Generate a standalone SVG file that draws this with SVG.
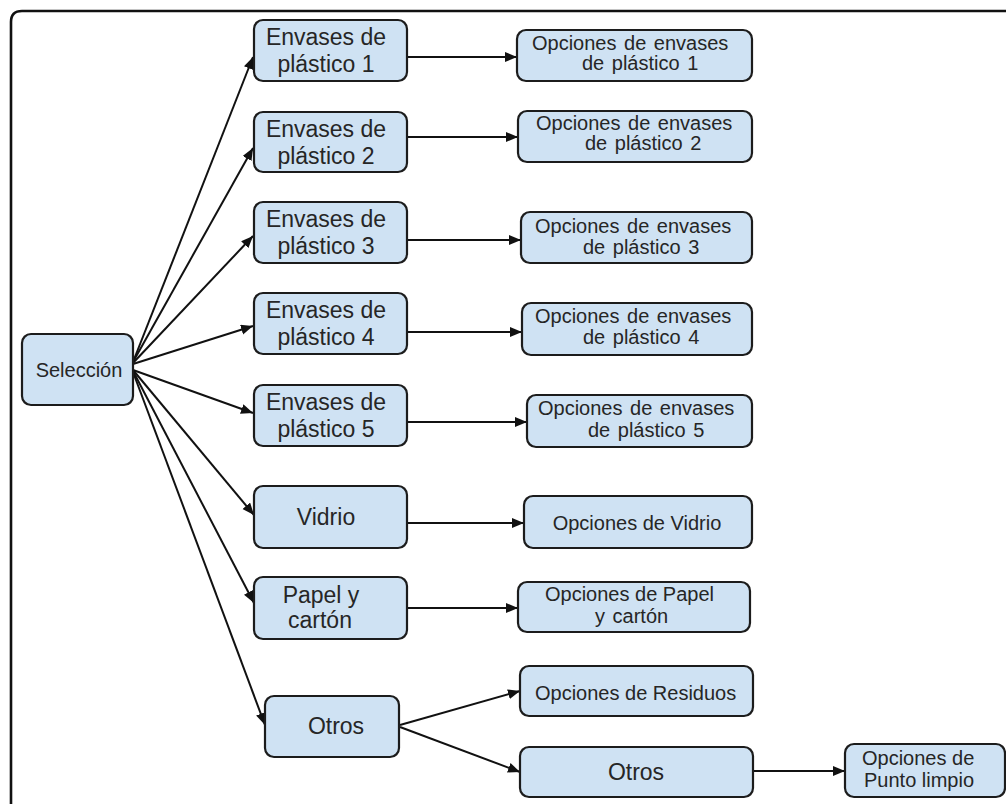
<svg xmlns="http://www.w3.org/2000/svg" width="1006" height="804" viewBox="0 0 1006 804">
<defs>
<marker id="ah" markerUnits="userSpaceOnUse" markerWidth="13" markerHeight="11" refX="12" refY="5" orient="auto">
<path d="M0,0 L12,5 L0,10 z" fill="#111"/>
</marker>
<style>
.box{fill:#cfe2f3;stroke:#1c1c1c;stroke-width:2.2}
.t{font-family:"Liberation Sans",Arial,sans-serif;fill:#262626}
.L{font-size:23px}
.R{font-size:20px}
.c{text-anchor:middle}
.w{word-spacing:2px}
.edge{stroke:#111;stroke-width:2;fill:none;marker-end:url(#ah)}
</style>
</defs>
<rect width="1006" height="804" fill="#fff"/>
<path d="M11,806 L11,22 Q11,11 22,11 L1006,11" fill="none" stroke="#111" stroke-width="2.6"/>
<g id="connectors">
<line class="edge" x1="133" y1="362" x2="253" y2="57"/>
<line class="edge" x1="133" y1="362" x2="253" y2="148"/>
<line class="edge" x1="133" y1="363" x2="253" y2="236"/>
<line class="edge" x1="133" y1="364" x2="253" y2="326"/>
<line class="edge" x1="133" y1="370" x2="253" y2="413"/>
<line class="edge" x1="133" y1="370" x2="254" y2="515"/>
<line class="edge" x1="133" y1="371" x2="254" y2="603"/>
<line class="edge" x1="133" y1="372" x2="265" y2="725"/>
<line class="edge" x1="407" y1="57" x2="517" y2="57"/>
<line class="edge" x1="407" y1="137" x2="518" y2="137"/>
<line class="edge" x1="407" y1="240" x2="521" y2="240"/>
<line class="edge" x1="407" y1="332" x2="522" y2="332"/>
<line class="edge" x1="407" y1="422" x2="527" y2="422"/>
<line class="edge" x1="407" y1="523" x2="524" y2="523"/>
<line class="edge" x1="407" y1="608" x2="518" y2="608"/>
<line class="edge" x1="400" y1="725" x2="520" y2="691"/>
<line class="edge" x1="400" y1="727" x2="520" y2="772"/>
<line class="edge" x1="753" y1="771" x2="845" y2="771"/>
</g>
<g id="seleccion">
<rect class="box" x="22" y="334" width="111" height="71" rx="9"/>
<text class="t R c" x="79" y="377">Selección</text>
</g>
<g id="envases1">
<rect class="box" x="254" y="20" width="153" height="61" rx="9"/>
<text class="t L c" x="326" y="45">Envases de</text>
<text class="t L c" x="326" y="72">plástico 1</text>
</g>
<g id="envases2">
<rect class="box" x="254" y="112" width="153" height="60" rx="9"/>
<text class="t L c" x="326" y="137">Envases de</text>
<text class="t L c" x="326" y="164">plástico 2</text>
</g>
<g id="envases3">
<rect class="box" x="254" y="202" width="153" height="61" rx="9"/>
<text class="t L c" x="326" y="227">Envases de</text>
<text class="t L c" x="326" y="254">plástico 3</text>
</g>
<g id="envases4">
<rect class="box" x="254" y="293" width="153" height="61" rx="9"/>
<text class="t L c" x="326" y="318">Envases de</text>
<text class="t L c" x="326" y="345">plástico 4</text>
</g>
<g id="envases5">
<rect class="box" x="254" y="385" width="153" height="61" rx="9"/>
<text class="t L c" x="326" y="410">Envases de</text>
<text class="t L c" x="326" y="437">plástico 5</text>
</g>
<g id="vidrio">
<rect class="box" x="254" y="486" width="153" height="62" rx="9"/>
<text class="t L c" x="326" y="525">Vidrio</text>
</g>
<g id="papel">
<rect class="box" x="254" y="577" width="153" height="62" rx="9"/>
<text class="t L c" x="321" y="603">Papel y</text>
<text class="t L c" x="320" y="628">cartón</text>
</g>
<g id="otros">
<rect class="box" x="265" y="696" width="134" height="61" rx="9"/>
<text class="t L c" x="336" y="734">Otros</text>
</g>
<g id="opc1">
<rect class="box" x="517" y="30" width="235" height="51" rx="9"/>
<text class="t R w" x="532" y="50">Opciones de envases</text>
<text class="t R w" x="582" y="70">de plástico 1</text>
</g>
<g id="opc2">
<rect class="box" x="518" y="111" width="234" height="51" rx="9"/>
<text class="t R w" x="536" y="130">Opciones de envases</text>
<text class="t R w" x="585" y="150">de plástico 2</text>
</g>
<g id="opc3">
<rect class="box" x="521" y="212" width="231" height="51" rx="9"/>
<text class="t R w" x="535" y="233">Opciones de envases</text>
<text class="t R w" x="583" y="254">de plástico 3</text>
</g>
<g id="opc4">
<rect class="box" x="522" y="303" width="230" height="52" rx="9"/>
<text class="t R w" x="535" y="323">Opciones de envases</text>
<text class="t R w" x="583" y="344">de plástico 4</text>
</g>
<g id="opc5">
<rect class="box" x="527" y="395" width="225" height="52" rx="9"/>
<text class="t R w" x="538" y="415">Opciones de envases</text>
<text class="t R w" x="588" y="437">de plástico 5</text>
</g>
<g id="opcVidrio">
<rect class="box" x="524" y="496" width="228" height="52" rx="9"/>
<text class="t R c" x="637" y="530">Opciones de Vidrio</text>
</g>
<g id="opcPapel">
<rect class="box" x="518" y="582" width="232" height="50" rx="9"/>
<text class="t R" x="545" y="601">Opciones de Papel</text>
<text class="t R w" x="595" y="623">y cartón</text>
</g>
<g id="opcResiduos">
<rect class="box" x="520" y="666" width="233" height="50" rx="9"/>
<text class="t R" x="535" y="700">Opciones de Residuos</text>
</g>
<g id="otros2">
<rect class="box" x="520" y="747" width="233" height="50" rx="9"/>
<text class="t L c" x="636" y="780">Otros</text>
</g>
<g id="puntoLimpio">
<rect class="box" x="845" y="744" width="160" height="53" rx="9"/>
<text class="t R" x="862" y="765">Opciones de</text>
<text class="t R" x="864" y="787">Punto limpio</text>
</g>
</svg>
